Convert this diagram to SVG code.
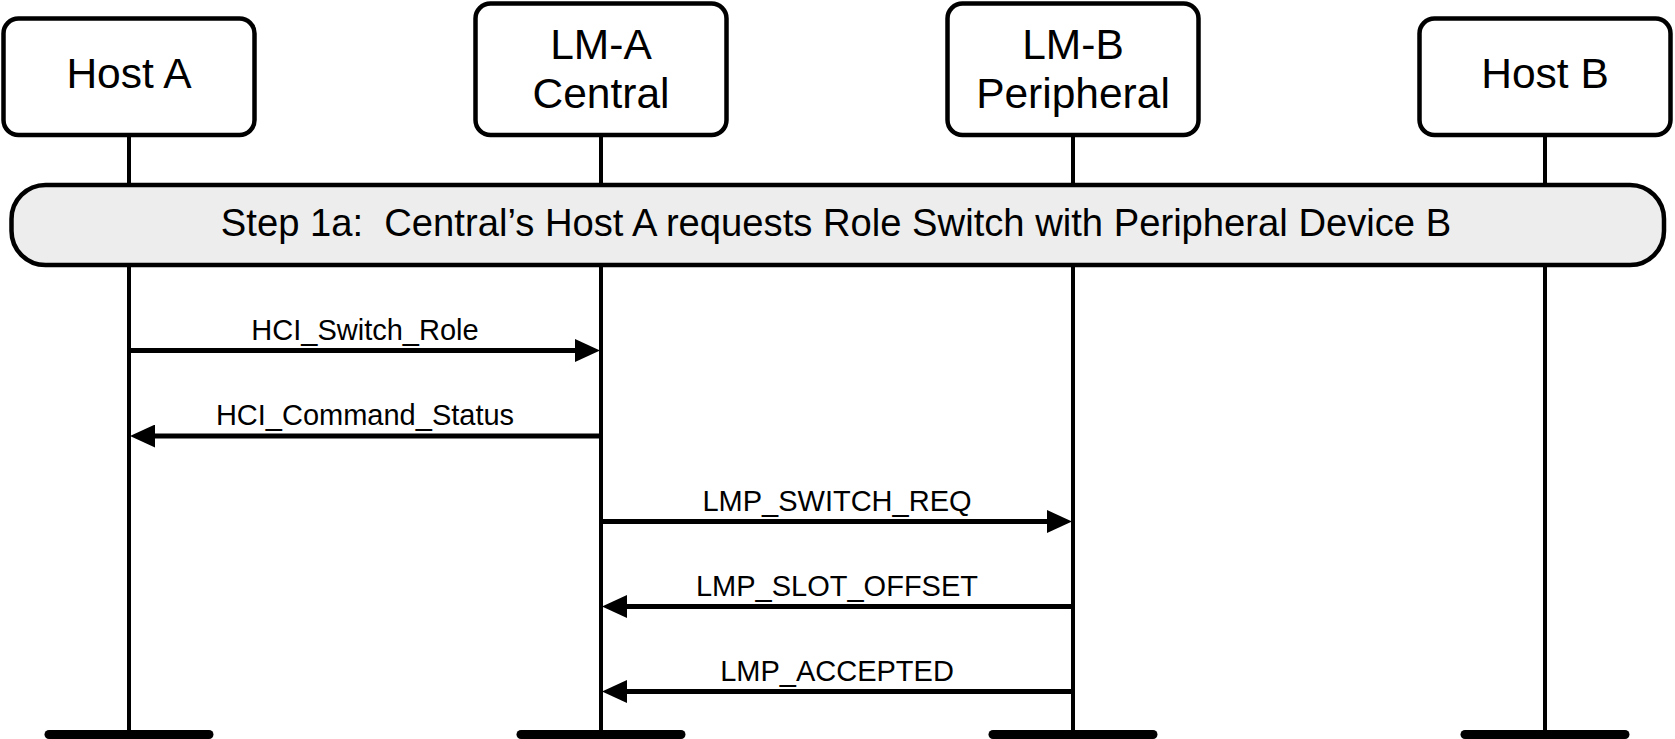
<svg xmlns="http://www.w3.org/2000/svg" width="1675" height="739" viewBox="0 0 1675 739">
<style>
.box{fill:#ffffff;stroke:#000;stroke-width:4.5}
.step{fill:#ededed;stroke:#000;stroke-width:4.5}
.life{stroke:#000;stroke-width:4;fill:none}
.bar{stroke:#000;stroke-width:9;stroke-linecap:round}
.msg{stroke:#000;stroke-width:5;fill:none}
.t{font-family:"Liberation Sans",Arial,sans-serif;fill:#000;text-anchor:middle}
.node{font-size:42.5px}
.lbl{font-size:29px}
.steptxt{font-size:38.2px}
</style>
<defs>
<marker id="ah" markerUnits="userSpaceOnUse" markerWidth="25" markerHeight="23" refX="14" refY="11.5" orient="auto">
<path d="M0,0 L25,11.5 L0,23 z" fill="#000"/>
</marker>
</defs>
<g id="lifelines">
<line class="life" x1="129" y1="135" x2="129" y2="734"/>
<line class="life" x1="601" y1="135" x2="601" y2="734"/>
<line class="life" x1="1073" y1="135" x2="1073" y2="734"/>
<line class="life" x1="1545" y1="135" x2="1545" y2="734"/>
<line class="bar" x1="49" y1="734.5" x2="209" y2="734.5"/>
<line class="bar" x1="521" y1="734.5" x2="681" y2="734.5"/>
<line class="bar" x1="993" y1="734.5" x2="1153" y2="734.5"/>
<line class="bar" x1="1465" y1="734.5" x2="1625" y2="734.5"/>
</g>
<g id="hostA">
<rect class="box" x="3.5" y="18.5" width="251" height="116.5" rx="15"/>
<text class="t node" x="129" y="88">Host A</text>
</g>
<g id="lmA">
<rect class="box" x="475.5" y="3.5" width="251" height="131.5" rx="15"/>
<text class="t node" x="601" y="59">LM-A</text>
<text class="t node" x="601" y="108">Central</text>
</g>
<g id="lmB">
<rect class="box" x="947.5" y="3.5" width="251" height="131.5" rx="15"/>
<text class="t node" x="1073" y="59">LM-B</text>
<text class="t node" x="1073" y="108">Peripheral</text>
</g>
<g id="hostB">
<rect class="box" x="1419.5" y="18.5" width="251" height="116.5" rx="15"/>
<text class="t node" x="1545" y="88">Host B</text>
</g>
<g id="step1a">
<rect class="step" x="11.5" y="185" width="1652.5" height="80" rx="34"/>
<text class="t steptxt" x="836" y="236" xml:space="preserve">Step 1a:  Central’s Host A requests Role Switch with Peripheral Device B</text>
</g>
<g id="connectors">
<line class="msg" x1="129" y1="350.5" x2="589" y2="350.5" marker-end="url(#ah)"/>
<text class="t lbl" x="365" y="340">HCI_Switch_Role</text>
<line class="msg" x1="601" y1="436" x2="141" y2="436" marker-end="url(#ah)"/>
<text class="t lbl" x="365" y="425">HCI_Command_Status</text>
<line class="msg" x1="601" y1="521.5" x2="1061" y2="521.5" marker-end="url(#ah)"/>
<text class="t lbl" x="837" y="510.5">LMP_SWITCH_REQ</text>
<line class="msg" x1="1073" y1="606.5" x2="613" y2="606.5" marker-end="url(#ah)"/>
<text class="t lbl" x="837" y="595.5">LMP_SLOT_OFFSET</text>
<line class="msg" x1="1073" y1="691.5" x2="613" y2="691.5" marker-end="url(#ah)"/>
<text class="t lbl" x="837" y="680.5">LMP_ACCEPTED</text>
</g>
</svg>
